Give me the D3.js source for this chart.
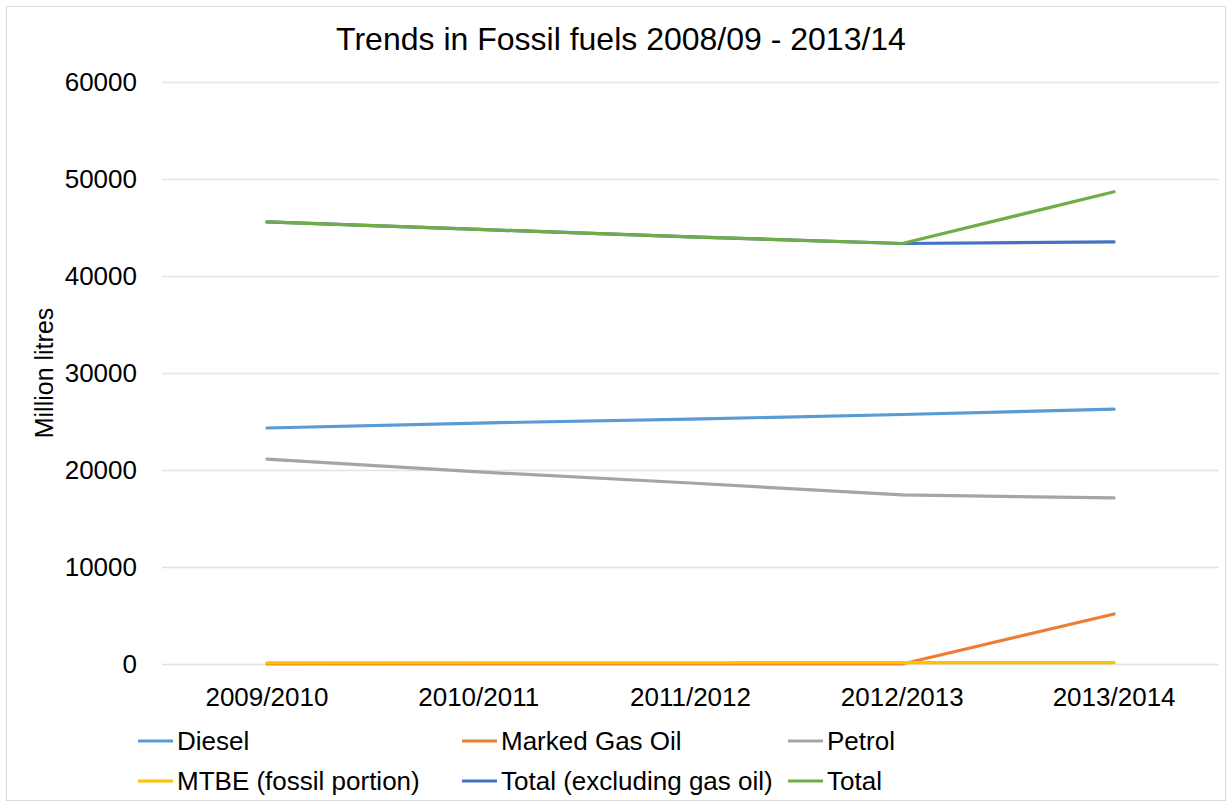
<!DOCTYPE html>
<html>
<head>
<meta charset="utf-8">
<script src="https://cdn.jsdelivr.net/npm/d3@7"></script>
<style>
  body { margin: 0; background: #fff; }
  text { font-family: "Liberation Sans", Arial, sans-serif; fill: #000; }
</style>
</head>
<body>
<svg width="1229" height="802"></svg>
<script>
// Data
const years = ["2009/2010", "2010/2011", "2011/2012", "2012/2013", "2013/2014"];
const diesel = [24330, 24840, 25250, 25720, 26280];
const markedGasOil = [0, 0, 0, 0, 5160];
const petrol = [21130, 19800, 18660, 17430, 17120];
const mtbe = [120, 130, 130, 140, 140];
const totalExGasOil = [45580, 44800, 44030, 43350, 43520];
const total = [45580, 44800, 44030, 43350, 48680];
const yTicks = [0, 10000, 20000, 30000, 40000, 50000, 60000];

const series = [
  { name: "Diesel", values: diesel, color: "#5b9bd5" },
  { name: "Marked Gas Oil", values: markedGasOil, color: "#ed7d31" },
  { name: "Petrol", values: petrol, color: "#a5a5a5" },
  { name: "MTBE (fossil portion)", values: mtbe, color: "#ffc000" },
  { name: "Total (excluding gas oil)", values: totalExGasOil, color: "#4472c4" },
  { name: "Total", values: total, color: "#70ad47" }
];

const svg = d3.select("svg"),
  width = +svg.attr("width"),
  height = +svg.attr("height");

// chart frame
svg.append("rect")
  .attr("x", 6.5).attr("y", 6.5)
  .attr("width", width - 10).attr("height", height - 8)
  .attr("fill", "#fff")
  .attr("stroke", "#d9d9d9");

// Scales
const x = d3.scaleBand()
  .domain(years)
  .range([161, 1220]);

const y = d3.scaleLinear()
  .domain([0, 60000])
  .range([664, 82]);

// Gridlines
svg.append("g")
  .selectAll("line")
  .data(yTicks)
  .join("line")
  .attr("x1", 162)
  .attr("x2", 1219)
  .attr("y1", d => Math.round(y(d)) + 0.5)
  .attr("y2", d => Math.round(y(d)) + 0.5)
  .attr("stroke", "#e3e3e3")
  .attr("stroke-width", 1.5);

// Y axis labels
const yAxis = svg.append("g")
  .attr("transform", "translate(137,0)")
  .call(d3.axisLeft(y).tickValues(yTicks).tickSize(0).tickPadding(0).tickFormat(d3.format("d")));
yAxis.select(".domain").remove();
yAxis.selectAll("text")
  .style("font-size", "26px")
  .style("font-family", "'Liberation Sans', Arial, sans-serif")
  .attr("fill", "#000");

// X axis labels
const xAxis = svg.append("g")
  .attr("transform", "translate(0,688)")
  .call(d3.axisBottom(x).tickSize(0).tickPadding(0));
xAxis.select(".domain").remove();
xAxis.selectAll("text")
  .style("font-size", "26px")
  .style("font-family", "'Liberation Sans', Arial, sans-serif")
  .attr("fill", "#000");

// Axis title
svg.append("text")
  .attr("transform", "translate(53,373) rotate(-90)")
  .attr("text-anchor", "middle")
  .style("font-size", "25px")
  .text("Million litres");

// Title
svg.append("text")
  .attr("x", 621)
  .attr("y", 50)
  .attr("text-anchor", "middle")
  .style("font-size", "32px")
  .text("Trends in Fossil fuels 2008/09 - 2013/14");

// Lines
const line = d3.line()
  .x((d, i) => x(years[i]) + x.bandwidth() / 2)
  .y(d => y(d));

svg.append("g")
  .selectAll("path")
  .data(series)
  .join("path")
  .attr("d", d => line(d.values))
  .attr("fill", "none")
  .attr("stroke", d => d.color)
  .attr("stroke-width", 3.2)
  .attr("stroke-linecap", "round")
  .attr("stroke-linejoin", "round");

// Legend
const legX = [138, 462, 788];
const legY = [741, 781];
const legend = svg.append("g")
  .selectAll("g")
  .data(series)
  .join("g")
  .attr("transform", (d, i) => `translate(${legX[i % 3]},${legY[Math.floor(i / 3)]})`);

legend.append("line")
  .attr("x1", 0).attr("x2", 35)
  .attr("stroke", d => d.color)
  .attr("stroke-width", 3.2);

legend.append("text")
  .attr("x", 39)
  .attr("dy", "0.35em")
  .style("font-size", "26px")
  .text(d => d.name);
</script>
</body>
</html>
